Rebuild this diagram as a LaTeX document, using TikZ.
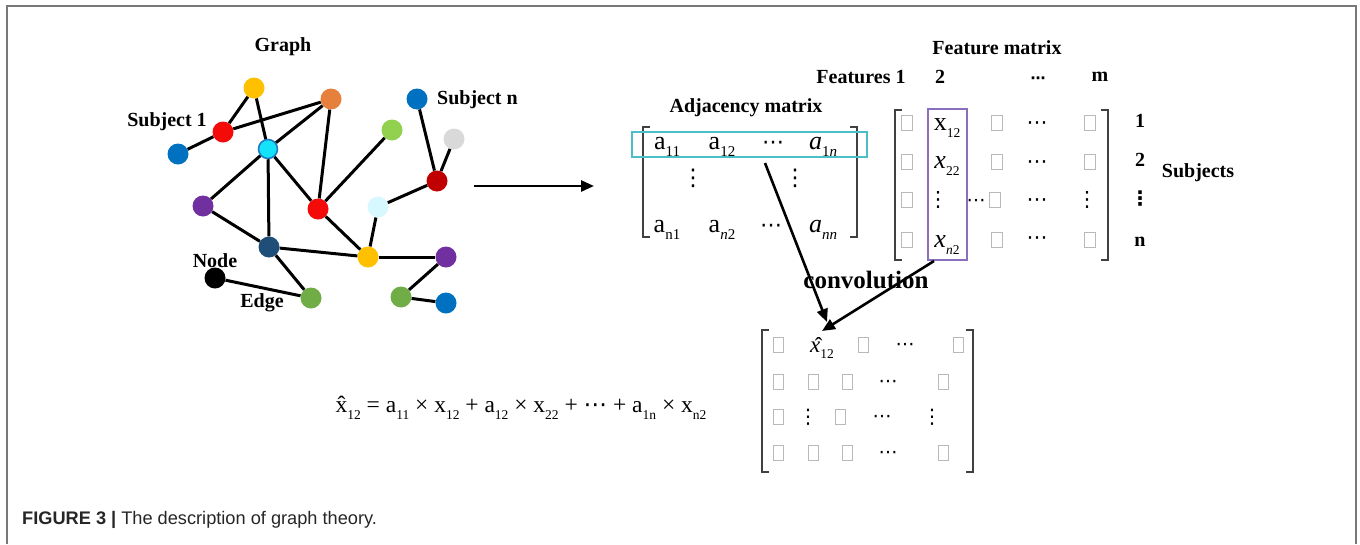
\documentclass[tikz,border=0pt]{standalone}
\usepackage{fontspec}
\setmainfont{Liberation Serif}
\newfontfamily\capfont{Liberation Sans}
\newfontfamily\dvs{DejaVu Sans}
\usetikzlibrary{arrows.meta}
\definecolor{cYel}{RGB}{255,192,0}
\definecolor{cOra}{RGB}{230,128,60}
\definecolor{cRed}{RGB}{245,10,10}
\definecolor{cBlu}{RGB}{0,112,192}
\definecolor{cCya}{RGB}{20,225,250}
\definecolor{cCyaB}{RGB}{30,120,190}
\definecolor{cLgr}{RGB}{146,208,80}
\definecolor{cGre}{RGB}{112,173,71}
\definecolor{cGra}{RGB}{217,217,217}
\definecolor{cDrd}{RGB}{192,0,0}
\definecolor{cLcy}{RGB}{215,248,255}
\definecolor{cPur}{RGB}{112,48,160}
\definecolor{cDbl}{RGB}{31,78,121}
\definecolor{cRow}{RGB}{75,190,200}
\definecolor{cCol}{RGB}{140,110,190}
\definecolor{cFrame}{RGB}{120,120,120}
\newcommand\subs[1]{\raisebox{-0.3em}{\fontsize{15}{15}\selectfont #1}}
\newcommand\fsubs[1]{\raisebox{-0.3em}{\fontsize{13.5}{14}\selectfont #1}}
\newcommand\mhd{{\dvs ⋯}}
\newcommand\mvd{{\dvs ⋮}}
\newcommand\xh{\rlap{\hspace{0.09em}\char"02C6}x}
\newcommand\xhi{\rlap{\hspace{0.2em}\raisebox{-0.06em}{\char"02C6}}\textit{x}}
\begin{document}
\begin{tikzpicture}[x=1pt,y=-1pt,
  gn/.style={circle,inner sep=0pt,minimum size=21pt,fill=#1},
  edge/.style={line width=3pt,black},
  lbl/.style={font=\fontsize{20}{22}\selectfont\bfseries,inner sep=0pt},
  ent/.style={font=\fontsize{26}{28}\selectfont,inner sep=0pt},
  bent/.style={ent,anchor=base},
  dd/.style={ent,font=\fontsize{21}{21}\selectfont},
  gb/.style={draw=gray!55,line width=0.9pt,minimum width=10pt,minimum height=15pt,inner sep=0pt},
  brk/.style={line width=1.3pt,draw=black!75},
  arr/.style={line width=2.6pt,-{Triangle[length=13pt,width=11pt]}}
]
\useasboundingbox (0,0) rectangle (1360,544);
% frame
\draw[cFrame,line width=2pt] (7,544) -- (7,6) -- (1356,6) -- (1356,544);

% ---------------- graph ----------------
\node[lbl] (tGraph) at (283,47) {Graph};
\node[gn=cYel] (yT) at (254,88) {};
\node[gn=cOra] (oR) at (331,99) {};
\node[gn=cRed] (rS) at (223,132) {};
\node[gn=cBlu] (bL) at (178,154) {};
\node[gn=cCya,draw=cCyaB,line width=1.5pt,minimum size=19pt] (cY) at (268,149) {};
\node[gn=cLgr] (gTR) at (392,130) {};
\node[gn=cBlu] (bN) at (417,99) {};
\node[gn=cGra] (gy) at (454,139) {};
\node[gn=cDrd] (dR) at (437,181) {};
\node[gn=cLcy] (lC) at (378,207) {};
\node[gn=cRed] (rM) at (318,209) {};
\node[gn=cPur] (pL) at (203,206) {};
\node[gn=cDbl] (dB) at (269,247) {};
\node[gn=cYel] (yB) at (368,257) {};
\node[gn=cPur] (pR) at (446,257) {};
\node[gn=black] (bk) at (215,278) {};
\node[gn=cGre] (gB) at (311,298) {};
\node[gn=cGre] (gRB) at (401,297) {};
\node[gn=cBlu] (bRB) at (446,303) {};

\draw[edge] (yT) -- (rS);
\draw[edge] (yT) -- (cY);
\draw[edge] (rS) -- (oR);
\draw[edge] (rS) -- (bL);
\draw[edge] (oR) -- (cY);
\draw[edge] (oR) -- (rM);
\draw[edge] (cY) -- (pL);
\draw[edge] (cY) -- (dB);
\draw[edge] (cY) -- (rM);
\draw[edge] (gTR) -- (rM);
\draw[edge] (bN) -- (dR);
\draw[edge] (gy) -- (dR);
\draw[edge] (dR) -- (lC);
\draw[edge] (lC) -- (yB);
\draw[edge] (rM) -- (yB);
\draw[edge] (pL) -- (dB);
\draw[edge] (dB) -- (yB);
\draw[edge] (dB) -- (gB);
\draw[edge] (yB) -- (pR);
\draw[edge] (pR) -- (gRB);
\draw[edge] (gRB) -- (bRB);
\draw[edge] (bk) -- (gB);

\node[lbl] (tS1) at (167,122) {Subject 1};
\node[lbl,anchor=west] (tSn) at (437,100) {Subject n};
\node[lbl] (tNode) at (215,261) {Node};
\node[lbl] (tEdge) at (262,303) {Edge};

% ---------------- adjacency matrix ----------------
\node[lbl] (tAdj) at (746,108) {Adjacency matrix};
\draw[brk] (650,127) -- (643,127) -- (643,237) -- (650,237);
\draw[brk] (850,127) -- (857,127) -- (857,237) -- (850,237);
\node[bent] (a11) at (667,149) {a\subs{11}};
\node[bent] (a12) at (722,149) {a\subs{12}};
\node[bent,font=\fontsize{22}{22}\selectfont] (a1d) at (773,149) {\mhd};
\node[bent] (a1n) at (823,149) {\textit{a}\subs{1\textit{n}}};
\node[ent,font=\fontsize{23}{23}\selectfont] (av1) at (693,178) {\mvd};
\node[ent,font=\fontsize{23}{23}\selectfont] (av2) at (795,178) {\mvd};
\node[bent] (an1) at (667,232) {a\subs{n1}};
\node[bent] (an2) at (722,232) {a\subs{\textit{n}2}};
\node[bent,font=\fontsize{22}{22}\selectfont] (and) at (771,232) {\mhd};
\node[bent] (ann) at (823,232) {\textit{a}\subs{\textit{nn}}};
\node[draw=cRow,line width=1.6pt,minimum width=235pt,minimum height=25pt,inner sep=0pt] (row1) at (749.5,144.5) {};

% ---------------- graph -> matrices arrow ----------------
\coordinate (gOut) at (474,186);
\coordinate (mIn) at (594,186);
\draw[arr] (gOut) -- (mIn);

% ---------------- feature matrix ----------------
\node[lbl] (tFeat) at (997,48) {Feature matrix};
\node[lbl] (tF1) at (861,77) {Features 1};
\node[lbl] (tF2) at (940,77) {2};
\node[lbl,font=\fontsize{15}{15}\selectfont\bfseries] (tFd) at (1038,80) {\mhd};
\node[lbl] (tFm) at (1100,77) {m};
\draw[brk] (902,110) -- (895,110) -- (895,260) -- (902,260);
\draw[brk] (1101,110) -- (1108,110) -- (1108,260) -- (1101,260);
\node[draw=cCol,line width=1.5pt,minimum width=39pt,minimum height=151pt,inner sep=0pt] (col2) at (947.5,184.5) {};
% row 1
\node[gb,minimum width=11pt] (f11) at (907,123) {};
\node[bent] (f12) at (947,130) {x\fsubs{12}};
\node[dd] (f14) at (1037,126) {\mhd};
\node[gb,minimum width=11pt] (f13) at (997,123) {};
\node[gb,minimum width=11pt] (f15) at (1090,123) {};
% row 2
\node[gb,minimum width=11pt] (f21) at (907,162) {};
\node[bent] (f22) at (947,168) {\textit{x}\fsubs{22}};
\node[gb,minimum width=11pt] (f23) at (997,162) {};
\node[dd] (f24) at (1037,165) {\mhd};
\node[gb,minimum width=11pt] (f25) at (1090,162) {};
% row 3
\node[gb,minimum width=11pt] (f31) at (907,200) {};
\node[dd] (f32) at (938,200) {\mvd};
\node[ent,font=\fontsize{19}{19}\selectfont] (f3d) at (976,203) {\mhd};
\node[gb,minimum width=11pt] (f33) at (995,200) {};
\node[dd] (f34) at (1037,203) {\mhd};
\node[dd] (f35) at (1087,200) {\mvd};
% row 4
\node[gb,minimum width=11pt] (f41) at (907,240) {};
\node[bent] (f42) at (947,247) {\textit{x}\fsubs{\textit{n}2}};
\node[gb,minimum width=11pt] (f43) at (997,240) {};
\node[dd] (f44) at (1037,241) {\mhd};
\node[gb,minimum width=11pt] (f45) at (1090,240) {};
% subjects labels
\node[lbl] (r1) at (1140,121) {1};
\node[lbl] (r2) at (1140,160) {2};
\node[lbl,font=\dvs\bfseries\fontsize{20}{20}\selectfont] (r3) at (1140,199) {⋮};
\node[lbl] (r4) at (1140,242) {n};
\node[lbl] (tSubj) at (1198,173) {Subjects};

% ---------------- convolution ----------------
\node[font=\fontsize{25}{27}\selectfont\bfseries,inner sep=0pt] (tConv) at (866,280) {convolution};
\draw[brk] (769,330) -- (762,330) -- (762,472) -- (769,472);
\draw[brk] (966,330) -- (973,330) -- (973,472) -- (966,472);
% row 1
\node[gb] (o11) at (778,345) {};
\node[bent,font=\fontsize{23}{25}\selectfont] (xh) at (822,352) {\xhi\fsubs{12}};
\node[gb] (o13) at (863,345) {};
\node[dd,font=\fontsize{19}{19}\selectfont] (o14) at (905,347) {\mhd};
\node[gb] (o15) at (958,345) {};
% row 2
\node[gb] (o21) at (778,382) {};
\node[gb] (o22) at (813,382) {};
\node[gb] (o23) at (847,382) {};
\node[dd,font=\fontsize{19}{19}\selectfont] (o24) at (888,384) {\mhd};
\node[gb] (o25) at (943,382) {};
% row 3
\node[gb] (o31) at (778,417) {};
\node[dd,font=\fontsize{20}{20}\selectfont] (o32) at (808,417) {\mvd};
\node[gb] (o33) at (840,417) {};
\node[dd,font=\fontsize{19}{19}\selectfont] (o34) at (882,419) {\mhd};
\node[dd,font=\fontsize{20}{20}\selectfont] (o35) at (932,417) {\mvd};
% row 4
\node[gb] (o41) at (778,453) {};
\node[gb] (o42) at (813,453) {};
\node[gb] (o43) at (847,453) {};
\node[dd,font=\fontsize{19}{19}\selectfont] (o44) at (888,455) {\mhd};
\node[gb] (o45) at (943,453) {};

\coordinate (s1) at (765,163);
\coordinate (t1) at (827,322);
\coordinate (s2) at (934,261);
\coordinate (t2) at (822,331);
\draw[arr] (s1) -- (t1);
\draw[arr] (s2) -- (t2);

% ---------------- formula ----------------
\node[inner sep=0pt,font=\fontsize{23.5}{25}\selectfont] (formula) at (521,408)
 {\xh\fsubs{12} = a\fsubs{11} × x\fsubs{12} + a\fsubs{12} × x\fsubs{22} + \mhd{} + a\fsubs{1n} × x\fsubs{n2}};

% ---------------- caption ----------------
\node[anchor=west,inner sep=0pt,font=\capfont\fontsize{18.2}{20}\selectfont,text=black!85] (cap) at (22,520)
 {\textbf{FIGURE 3 |} The description of graph theory.};
\end{tikzpicture}
\end{document}
